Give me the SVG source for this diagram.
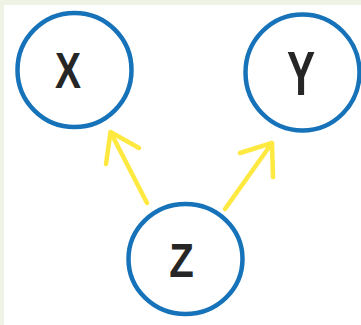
<svg xmlns="http://www.w3.org/2000/svg" width="361" height="325" viewBox="0 0 361 325">
  <style>
    .node { fill: none; stroke: #1672b9; stroke-width: 4.5; }
    .label { font-family: "Liberation Sans", Arial, sans-serif; font-weight: bold; fill: #262626; text-anchor: middle; }
    .arrow { fill: none; stroke: #fde93f; stroke-width: 4.5; stroke-linecap: round; stroke-linejoin: round; }
  </style>
  <rect x="0" y="0" width="361" height="325" fill="#eef3e6"/>
  <rect x="4" y="5" width="357" height="320" fill="#ffffff"/>
  <g id="connectors">
    <path class="arrow" d="M147,203 L110.5,132 M106,164 L110.5,132 L139,148"/>
    <path class="arrow" d="M225,209 L272,143 M240,153 L272,143 L273,177"/>
  </g>
  <g id="node-x">
    <ellipse class="node" cx="74.5" cy="70" rx="57" ry="57"/>
    <text class="label" x="0" y="0" font-size="50" transform="translate(68,88) scale(0.78,1)">X</text>
  </g>
  <g id="node-y">
    <ellipse class="node" cx="302.5" cy="72.5" rx="57" ry="58"/>
    <text class="label" x="0" y="0" font-size="62" transform="translate(301,95) scale(0.68,1)">Y</text>
  </g>
  <g id="node-z">
    <ellipse class="node" cx="185.5" cy="259" rx="57" ry="55"/>
    <text class="label" x="0" y="0" font-size="49" transform="translate(181.5,277) scale(0.82,1)">Z</text>
  </g>
</svg>
